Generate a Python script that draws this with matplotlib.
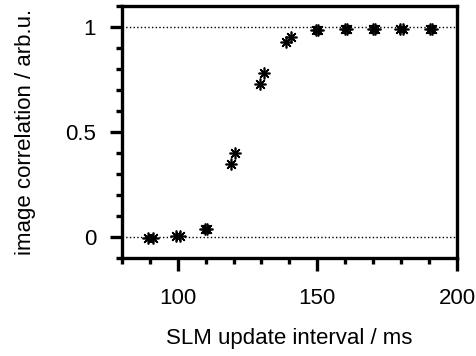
import matplotlib
matplotlib.use("Agg")
import matplotlib.pyplot as plt
from matplotlib.ticker import MultipleLocator

plt.rcParams['font.family'] = ['Liberation Sans', 'DejaVu Sans']

# two measurements per update interval
interval_ms = [89.5, 91.0, 99.5, 100.7, 109.6, 110.4, 119.2, 120.5, 129.6, 130.8,
               138.9, 140.7, 149.6, 150.4, 159.8, 160.5, 170.0, 170.7, 179.6, 180.5,
               190.2, 191.0]
correlation = [-0.003, -0.004, 0.004, 0.005, 0.038, 0.040, 0.35, 0.40, 0.73, 0.78,
               0.93, 0.953, 0.985, 0.987, 0.99, 0.99, 0.99, 0.99, 0.99, 0.99,
               0.99, 0.99]

fig = plt.figure(figsize=(4.76, 3.56), dpi=100)
ax = fig.add_axes([0.256, 0.275, 0.704, 0.708])

ax.axhline(0, color='black', linestyle=':', linewidth=1.0, zorder=1)
ax.axhline(1, color='black', linestyle=':', linewidth=1.0, zorder=1)

ax.plot(interval_ms, correlation, linestyle='none', marker=(8, 2, 0),
        markersize=8.5, markeredgewidth=1.2, color='black', zorder=3)

ax.set_xlim(80, 200)
ax.set_ylim(-0.1, 1.1)
ax.xaxis.set_major_locator(MultipleLocator(50))
ax.xaxis.set_minor_locator(MultipleLocator(10))
ax.yaxis.set_major_locator(MultipleLocator(0.5))
ax.yaxis.set_minor_locator(MultipleLocator(0.1))
ax.set_xticks([100, 150, 200])
ax.set_xticklabels(['100', '150', '200'])
ax.set_yticks([0, 0.5, 1])
ax.set_yticklabels(['0', '0.5', '1'])

for s in ax.spines.values():
    s.set_linewidth(2.4)
ax.tick_params(which='major', direction='out', length=9, width=2.4,
               labelsize=16)
ax.tick_params(axis='x', which='major', pad=12.5)
ax.tick_params(axis='y', which='major', pad=9.5)
ax.tick_params(which='minor', direction='out', length=4.5, width=2.4)
ax.tick_params(top=False, right=False)

ax.set_xlabel('SLM update interval / ms', fontsize=16, labelpad=14)
ax.set_ylabel('image correlation / arb.u.', fontsize=16, labelpad=21)

fig.savefig('out.png', dpi=100)
